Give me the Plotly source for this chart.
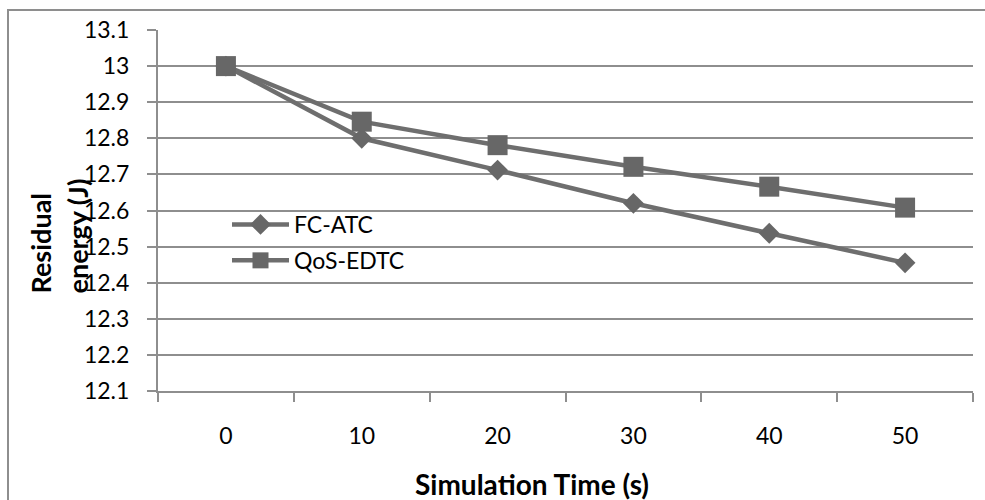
import plotly.graph_objects as go

# ---- data ----
time_labels = ["0", "10", "20", "30", "40", "50"]
fc_atc = [13.0, 12.80, 12.712, 12.62, 12.537, 12.455]
qos_edtc = [13.0, 12.846, 12.781, 12.721, 12.666, 12.608]
y_ticks = [12.1, 12.2, 12.3, 12.4, 12.5, 12.6, 12.7, 12.8, 12.9, 13.0, 13.1]
y_tick_text = ["12.1", "12.2", "12.3", "12.4", "12.5", "12.6", "12.7", "12.8", "12.9", "13", "13.1"]

W, H = 985, 500
ML, MR, MT, MB = 158, 12, 30, 109
PW = W - ML - MR
PH = H - MT - MB

def px_x(p):
    return (p - ML) / PW

def px_y(p):
    return (H - MB - p) / PH

LINE = "#6e6e6e"
GRID = "#8e8e8e"
FONT = "Lato"

fig = go.Figure()
fig.add_trace(go.Scatter(
    x=time_labels, y=fc_atc, name="FC-ATC", mode="lines+markers",
    line=dict(color=LINE, width=4.5),
    marker=dict(symbol="diamond", size=16, color="#676767"),
    legendgroup="a",
))
fig.add_trace(go.Scatter(
    x=time_labels, y=qos_edtc, name="QoS-EDTC", mode="lines+markers",
    line=dict(color=LINE, width=4.5),
    marker=dict(symbol="square", size=20, color="#676767"),
    legendgroup="b",
))

fig.update_layout(
    width=W, height=H,
    margin=dict(l=ML, r=MR, t=MT, b=MB),
    paper_bgcolor="white", plot_bgcolor="white",
    font=dict(family=FONT, color="black"),
    showlegend=True,
    legend=dict(
        x=px_x(227), y=px_y(203), xanchor="left", yanchor="top",
        bgcolor="rgba(0,0,0,0)", font=dict(size=23, family=FONT, color="black"),
        itemwidth=57, tracegroupgap=3,
    ),
    xaxis=dict(
        type="category", range=[-0.5, 5.5],
        showline=True, linecolor=GRID, linewidth=2,
        ticks="outside", tickson="boundaries", ticklen=9, tickwidth=2, tickcolor=GRID,
        showgrid=False, tickfont=dict(size=23, family=FONT, color="black"),
        ticklabelstandoff=23, zeroline=False,
    ),
    yaxis=dict(
        range=[12.1, 13.1], tickvals=y_ticks, ticktext=y_tick_text,
        showline=True, linecolor=GRID, linewidth=2,
        ticks="outside", ticklen=9, tickwidth=2, tickcolor=GRID,
        showgrid=True, gridcolor=GRID, gridwidth=2,
        tickfont=dict(size=23, family=FONT, color="black"),
        ticklabelstandoff=13, zeroline=False,
    ),
    shapes=[dict(
        type="rect", xref="paper", yref="paper",
        x0=px_x(8), x1=px_x(992), y0=px_y(510), y1=px_y(10),
        line=dict(color=GRID, width=2), fillcolor="rgba(0,0,0,0)", layer="below",
    )],
    annotations=[
        dict(text="<b>Residual</b>", textangle=-90, xref="paper", yref="paper",
             x=px_x(40), y=px_y(296), xanchor="center", yanchor="bottom",
             showarrow=False, font=dict(size=27, family=FONT, color="black")),
        dict(text="<b>energy (J)</b>", textangle=-90, xref="paper", yref="paper",
             x=px_x(77), y=px_y(296), xanchor="center", yanchor="bottom",
             showarrow=False, font=dict(size=27, family=FONT, color="black")),
        dict(text="<b>Simulation Time (s)</b>", xref="paper", yref="paper",
             x=px_x(532), y=px_y(484), xanchor="center", yanchor="middle",
             showarrow=False, font=dict(size=28, family=FONT, color="black")),
    ],
)

fig.write_html("out.html")
